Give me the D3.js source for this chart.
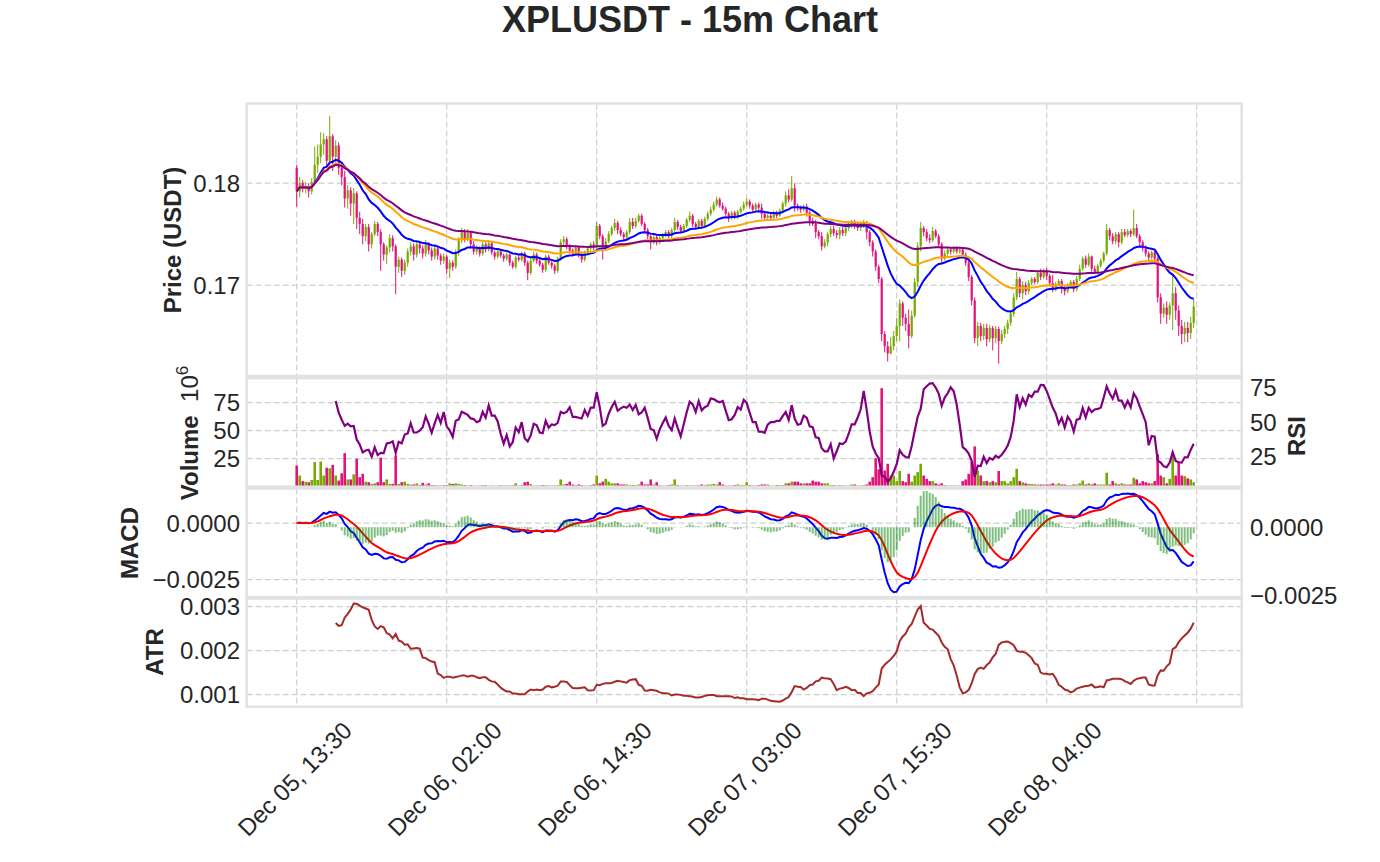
<!DOCTYPE html>
<html><head><meta charset="utf-8">
<script src="https://cdn.jsdelivr.net/npm/d3@7"></script>
<style>
body{margin:0;background:#fff}
text{font-family:"Liberation Sans",Arial,Helvetica,sans-serif;fill:#262626}
</style>
</head><body>
<svg id="c" width="1380" height="862"></svg>
<script>
// ---------------- DATA ----------------
const chartTitle = "XPLUSDT - 15m Chart";
const startTime = "2025-12-05T13:30:00Z";
const stepMinutes = 15;
const firstOpen = 0.1815;
const close = [
.1792,.1800,.1795,.1797,.1792,.1801,.1818,.1826,.1838,.1843,
.1822,.1846,.1826,.1837,.1815,.1806,.1785,.1793,.1780,.1790,
.1766,.1760,.1748,.1757,.1740,.1750,.1760,.1752,.1740,.1730,
.1737,.1746,.1738,.1718,.1725,.1714,.1722,.1733,.1738,.1730,
.1740,.1736,.1731,.1740,.1734,.1728,.1736,.1729,.1724,.1728,
.1716,.1722,.1718,.1732,.1744,.1752,.1745,.1751,.1740,.1733,
.1736,.1731,.1740,.1735,.1741,.1732,.1728,.1733,.1729,.1726,
.1730,.1722,.1718,.1727,.1725,.1731,.1722,.1712,.1724,.1730,
.1724,.1720,.1715,.1728,.1722,.1719,.1714,.1726,.1742,.1745,
.1738,.1734,.1731,.1737,.1730,.1725,.1732,.1736,.1740,.1737,
.1758,.1748,.1737,.1743,.1750,.1756,.1761,.1754,.1750,.1747,
.1752,.1762,.1758,.1763,.1768,.1760,.1754,.1748,.1742,.1747,
.1742,.1746,.1749,.1752,.1748,.1754,.1762,.1757,.1753,.1758,
.1764,.1768,.1760,.1757,.1763,.1758,.1765,.1770,.1774,.1779,
.1784,.1778,.1775,.1770,.1766,.1771,.1767,.1772,.1775,.1779,
.1782,.1778,.1774,.1779,.1776,.1770,.1766,.1768,.1766,.1771,
.1768,.1773,.1780,.1788,.1784,.1795,.1778,.1776,.1774,.1777,
.1771,.1763,.1760,.1752,.1748,.1738,.1742,.1750,.1755,.1751,
.1749,.1754,.1751,.1756,.1759,.1761,.1758,.1756,.1759,.1761,
.1752,.1742,.1733,.1718,.1706,.1652,.1640,.1633,.1640,.1650,
.1660,.1682,.1668,.1662,.1650,.1670,.1703,.1738,.1756,.1752,
.1746,.1744,.1753,.1748,.1740,.1726,.1731,.1735,.1733,.1736,
.1733,.1735,.1730,.1722,.1708,.1685,.1648,.1660,.1650,.1658,
.1647,.1658,.1648,.1657,.1645,.1652,.1657,.1663,.1672,.1688,
.1706,.1692,.1700,.1694,.1702,.1706,.1703,.1712,.1708,.1714,
.1709,.1702,.1696,.1701,.1704,.1697,.1694,.1700,.1703,.1696,
.1706,.1716,.1726,.1720,.1728,.1716,.1713,.1719,.1724,.1731,
.1754,.1748,.1743,.1750,.1742,.1752,.1749,.1753,.1750,.1756,
.1748,.1742,.1736,.1731,.1727,.1732,.1726,.1688,.1672,.1678,
.1671,.1680,.1692,.1675,.1660,.1652,.1658,.1653,.1663,.1679];
const high = [
.1818,.1806,.1803,.1801,.1800,.1805,.1836,.1838,.1850,.1849,
.1846,.1866,.1848,.1842,.1840,.1820,.1812,.1798,.1796,.1795,
.1792,.1772,.1765,.1760,.1760,.1752,.1763,.1762,.1755,.1742,
.1739,.1750,.1749,.1740,.1728,.1727,.1725,.1736,.1742,.1741,
.1743,.1743,.1739,.1744,.1742,.1737,.1739,.1738,.1731,.1731,
.1730,.1725,.1724,.1735,.1747,.1756,.1755,.1755,.1753,.1743,
.1739,.1738,.1743,.1742,.1744,.1743,.1734,.1736,.1735,.1731,
.1732,.1731,.1724,.1729,.1730,.1733,.1733,.1724,.1727,.1733,
.1732,.1726,.1722,.1730,.1730,.1724,.1721,.1728,.1745,.1748,
.1747,.1740,.1736,.1739,.1738,.1732,.1734,.1738,.1742,.1743,
.1762,.1760,.1750,.1746,.1753,.1758,.1765,.1763,.1757,.1752,
.1754,.1766,.1766,.1766,.1770,.1770,.1762,.1756,.1750,.1749,
.1749,.1748,.1751,.1754,.1754,.1756,.1766,.1764,.1759,.1760,
.1766,.1772,.1770,.1762,.1765,.1765,.1767,.1772,.1777,.1782,
.1787,.1786,.1781,.1777,.1772,.1773,.1773,.1774,.1777,.1782,
.1785,.1784,.1780,.1781,.1781,.1780,.1772,.1770,.1770,.1773,
.1773,.1775,.1782,.1792,.1794,.1807,.1800,.1780,.1778,.1779,
.1780,.1773,.1766,.1764,.1754,.1752,.1745,.1752,.1758,.1758,
.1754,.1757,.1757,.1759,.1762,.1764,.1764,.1761,.1762,.1764,
.1763,.1754,.1744,.1735,.1720,.1708,.1655,.1645,.1649,.1655,
.1668,.1686,.1684,.1672,.1676,.1675,.1707,.1742,.1762,.1758,
.1755,.1750,.1757,.1755,.1750,.1742,.1734,.1738,.1737,.1738,
.1738,.1737,.1737,.1732,.1724,.1710,.1688,.1664,.1663,.1662,
.1662,.1661,.1660,.1660,.1659,.1656,.1660,.1666,.1675,.1692,
.1713,.1708,.1704,.1703,.1705,.1708,.1708,.1714,.1716,.1716,
.1717,.1711,.1710,.1703,.1706,.1706,.1699,.1702,.1705,.1705,
.1709,.1720,.1728,.1729,.1731,.1729,.1719,.1721,.1726,.1733,
.1760,.1756,.1751,.1752,.1752,.1755,.1755,.1755,.1755,.1774,
.1760,.1750,.1744,.1739,.1733,.1734,.1734,.1728,.1692,.1682,
.1684,.1683,.1710,.1698,.1680,.1666,.1664,.1664,.1669,.1686];
const low = [
.1777,.1786,.1791,.1790,.1786,.1789,.1798,.1810,.1820,.1828,
.1815,.1818,.1812,.1820,.1808,.1798,.1776,.1775,.1768,.1760,
.1755,.1750,.1740,.1743,.1733,.1736,.1748,.1748,.1714,.1724,
.1721,.1732,.1733,.1691,.1712,.1708,.1710,.1718,.1729,.1724,
.1727,.1731,.1726,.1728,.1730,.1724,.1725,.1725,.1720,.1721,
.1711,.1707,.1714,.1716,.1729,.1741,.1742,.1743,.1738,.1730,
.1730,.1728,.1729,.1732,.1733,.1730,.1725,.1726,.1727,.1723,
.1724,.1719,.1716,.1716,.1723,.1723,.1719,.1705,.1710,.1722,
.1721,.1718,.1712,.1713,.1720,.1716,.1711,.1712,.1724,.1738,
.1735,.1731,.1728,.1729,.1727,.1722,.1723,.1730,.1733,.1734,
.1735,.1745,.1725,.1734,.1741,.1748,.1753,.1750,.1748,.1744,
.1745,.1750,.1755,.1756,.1761,.1758,.1752,.1745,.1735,.1740,
.1739,.1740,.1744,.1747,.1746,.1746,.1752,.1754,.1751,.1751,
.1756,.1762,.1757,.1755,.1755,.1756,.1756,.1763,.1768,.1772,
.1777,.1776,.1773,.1768,.1762,.1764,.1765,.1765,.1770,.1773,
.1777,.1775,.1771,.1772,.1773,.1765,.1764,.1764,.1764,.1765,
.1766,.1767,.1771,.1777,.1781,.1782,.1772,.1773,.1771,.1772,
.1767,.1758,.1758,.1746,.1745,.1734,.1736,.1738,.1747,.1748,
.1746,.1745,.1748,.1748,.1753,.1756,.1755,.1753,.1753,.1756,
.1745,.1738,.1728,.1714,.1702,.1645,.1634,.1625,.1632,.1636,
.1645,.1645,.1660,.1655,.1638,.1648,.1668,.1698,.1733,.1748,
.1743,.1741,.1742,.1746,.1737,.1722,.1724,.1729,.1730,.1731,
.1731,.1731,.1727,.1719,.1704,.1680,.1643,.1640,.1645,.1646,
.1640,.1644,.1636,.1643,.1623,.1642,.1648,.1652,.1660,.1669,
.1685,.1688,.1686,.1690,.1691,.1700,.1701,.1701,.1705,.1706,
.1705,.1699,.1693,.1694,.1699,.1692,.1690,.1692,.1697,.1693,
.1694,.1704,.1714,.1717,.1718,.1713,.1711,.1711,.1717,.1722,
.1729,.1744,.1740,.1740,.1737,.1740,.1747,.1747,.1747,.1748,
.1746,.1738,.1733,.1728,.1724,.1725,.1723,.1683,.1662,.1668,
.1662,.1666,.1656,.1666,.1650,.1642,.1644,.1644,.1647,.1658];
// volume in millions
const volumeM = [
19,10,5,4.5,4,6,22,6,22.5,10,
17,16.5,19.5,10,5.5,12,30,6.5,6.5,11,
25,8.5,11.5,4.5,4,2.5,3,4,26,4,
6.5,2.5,2.5,28,2.5,4,4.5,2.5,2,2,
3,1.5,3.5,2,3,1.5,1.5,1,1,1.5,
1.5,3,2.5,3,2.5,2,1.5,1,1.5,1,
0.8,1,1.5,1.5,0.8,1,0.8,1,1.2,1,
1,1,1.2,3,1,1.5,4,4.5,2.5,1,
1,1,1.5,1.5,1,1,1,1.5,6.5,2,
2.5,4.5,2,1.5,2,1.5,1,1,1.5,2,
10,3,4.5,7,4.5,3,3,3,2,2,
2,1.5,1.5,1.5,2,4.5,2,2,6.5,2,
4,1.5,1,1,1.5,2,6.5,1.5,1,1,
1.5,1,1,1,1.5,2,1.5,2,2,2.5,
2,4,2,1,1,1,1.5,2,1.5,1.5,
4,1.5,1,1,1.5,2,2,2,1,1,
1.5,1.5,1.5,3,3,4.5,4.5,4.5,3,3,
3,3,5.5,4.5,4.5,3,3,3,1.5,1.5,
1,1.5,1,1,1,2,2,1,1,1.5,
2,4.5,8.5,25.5,15.5,88,14.5,20.5,10,10,
5,14,5,4,11.5,4.5,10,13,20.5,10,
7,5,5,3,2,3,1.5,1,1,1,
1,1,5,6.5,11.5,22,36,14.5,10,5,
5,4,5,4,14,5,5,3,5,8.5,
16,5,4,3,2.5,2.5,2,2,2,2,
2,2,3,2,3,2,2,1.5,1.5,2,
2,3,5.5,2,3,2,3,2,2,2,
12.5,2,5,3,2,3,2,2,2,8,
6.5,3,5,4,3,3,5,29,10,8.5,
3,7,29,10,22,10,9.5,7.5,6.5,4];
const xTickIndex  = [0, 50, 100, 150, 200, 250, 300];
const xTickLabels = ["Dec 05, 13:30","Dec 06, 02:00","Dec 06, 14:30","Dec 07, 03:00","Dec 07, 15:30","Dec 08, 04:00",""];
const priceTicks = [0.17, 0.18];
const volTicks   = [25, 50, 75];
const rsiTicks   = [25, 50, 75];
const macdTicks  = [-0.0025, 0];
const histTicks  = [-0.0025, 0];
const histAxisRange = [-0.00257, 0.00142];   // right-hand MACD histogram axis limits
const atrTicks   = [0.001, 0.002, 0.003];
const maSpans = [20, 50, 100];
const maColors = ["#0000ff", "#ffa500", "#800080"];

// ---------------- INDICATORS ----------------
const n = close.length;
const open = close.map((c, i) => i ? close[i - 1] : firstOpen);
function emaAdjust(arr, span) { const a = 2 / (span + 1); let num = 0, den = 0; return arr.map(v => { num = v + (1 - a) * num; den = 1 + (1 - a) * den; return num / den; }); }
const mas = maSpans.map(s => emaAdjust(close, s));
const ema12 = emaAdjust(close, 12), ema26 = emaAdjust(close, 26);
const macd = close.map((_, i) => ema12[i] - ema26[i]);
const signal = emaAdjust(macd, 9);
const hist = macd.map((m, i) => m - signal[i]);
const gain = close.map((c, i) => i && c > close[i - 1] ? c - close[i - 1] : 0);
const loss = close.map((c, i) => i && c < close[i - 1] ? close[i - 1] - c : 0);
const rsi = close.map((_, i) => {
  if (i < 13) return null;
  const g = d3.mean(gain.slice(i - 13, i + 1)), l = d3.mean(loss.slice(i - 13, i + 1));
  return l === 0 ? 100 : 100 - 100 / (1 + g / l);
});
const tr = close.map((_, i) => i ? Math.max(high[i] - low[i], Math.abs(high[i] - close[i - 1]), Math.abs(low[i] - close[i - 1])) : high[i] - low[i]);
const atr = close.map((_, i) => i < 13 ? null : d3.mean(tr.slice(i - 13, i + 1)));

// ---------------- LAYOUT ----------------
const svg = d3.select("#c");
svg.append("rect").attr("width", 1380).attr("height", 862).attr("fill", "#fff");
const t0 = new Date(startTime).getTime();
const tAt = i => new Date(t0 + i * stepMinutes * 60000);
const X0 = 246.7, X1 = 1241.7;
const x = d3.scaleUtc().domain([tAt(-16.667), tAt(315)]).range([X0, X1]);
const xi = i => x(tAt(i));
const P = { price: [103.5, 376], vol: [378.3, 486.7], macd: [488.5, 597.2], atr: [598.6, 706.7] };
const pad = (lo, hi) => { const r = hi - lo; return [lo - 0.05 * r, hi + 0.05 * r]; };
const UP = "#77aa00", DOWN = "#e3137b";
const isUp = i => close[i] >= open[i];
const FS = 24;

const defs = svg.append("defs");
Object.entries(P).forEach(([k, [a, b]]) => {
  defs.append("clipPath").attr("id", "clip-" + k).append("rect").attr("x", X0).attr("y", a).attr("width", X1 - X0).attr("height", b - a);
});

function grid(key, y, ticks) {
  const [a, b] = P[key];
  const g = svg.append("g").attr("stroke", "#cfcfcf").attr("stroke-width", 1.2).attr("stroke-dasharray", "6,3").attr("fill", "none");
  ticks.forEach(t => g.append("line").attr("x1", X0).attr("x2", X1).attr("y1", y(t)).attr("y2", y(t)));
  xTickIndex.forEach(i => g.append("line").attr("x1", xi(i)).attr("x2", xi(i)).attr("y1", a).attr("y2", b));
}
function border(key) {
  const [a, b] = P[key];
  svg.append("rect").attr("x", X0).attr("y", a).attr("width", X1 - X0).attr("height", b - a)
    .attr("fill", "none").attr("stroke", "#e2e2e2").attr("stroke-width", 2.5);
}
function leftTicks(y, ticks, fmt) {
  ticks.forEach(t => svg.append("text").attr("x", 240).attr("y", y(t)).attr("text-anchor", "end")
    .attr("dominant-baseline", "central").attr("font-size", FS).text(fmt(t)));
}
function rightTicks(y, ticks, fmt) {
  ticks.forEach(t => svg.append("text").attr("x", 1250).attr("y", y(t)).attr("text-anchor", "start")
    .attr("dominant-baseline", "central").attr("font-size", FS).text(fmt(t)));
}
function yLabel(xpos, ycen, txt) {
  return svg.append("text").attr("transform", `translate(${xpos},${ycen}) rotate(-90)`).attr("text-anchor", "middle")
    .attr("font-size", FS).attr("font-weight", "bold").text(txt);
}
const panelG = key => svg.append("g").attr("clip-path", `url(#clip-${key})`);

// ---------- PRICE ----------
const yP = d3.scaleLinear().domain(pad(d3.min(low), d3.max(high))).range([P.price[1], P.price[0]]);
grid("price", yP, priceTicks);
const gp = panelG("price");
close.forEach((c, i) => {
  const col = isUp(i) ? UP : DOWN;
  gp.append("line").attr("x1", xi(i)).attr("x2", xi(i)).attr("y1", yP(high[i])).attr("y2", yP(low[i])).attr("stroke", col).attr("stroke-width", 1);
  const y1 = yP(Math.max(open[i], c)), y2 = yP(Math.min(open[i], c));
  gp.append("rect").attr("x", xi(i) - 1.1).attr("width", 2.2).attr("y", y1).attr("height", Math.max(0.8, y2 - y1)).attr("fill", col);
});
mas.forEach((m, k) => {
  gp.append("path").attr("d", d3.line().x((_, i) => xi(i)).y(v => yP(v))(m))
    .attr("fill", "none").attr("stroke", maColors[k]).attr("stroke-width", 2);
});
border("price");
leftTicks(yP, priceTicks, d3.format(".2f"));
yLabel(181, 240, "Price (USDT)");

// ---------- VOLUME + RSI ----------
const yV = d3.scaleLinear().domain([0, d3.max(volumeM) * 1.1]).range([P.vol[1], P.vol[0]]);
const rsiVals = rsi.filter(v => v !== null);
const yR = d3.scaleLinear().domain(pad(d3.min(rsiVals), d3.max(rsiVals))).range([P.vol[1], P.vol[0]]);
grid("vol", yV, volTicks);
const gv = panelG("vol");
volumeM.forEach((v, i) => {
  gv.append("rect").attr("x", xi(i) - 1.3).attr("width", 2.6).attr("y", yV(v)).attr("height", yV(0) - yV(v))
    .attr("fill", isUp(i) ? UP : DOWN);
});
gv.append("path").attr("d", d3.line().defined(v => v !== null).x((_, i) => xi(i)).y(v => yR(v))(rsi))
  .attr("fill", "none").attr("stroke", "#800080").attr("stroke-width", 2.2);
border("vol");
leftTicks(yV, volTicks, d3.format("d"));
rightTicks(yR, rsiTicks, d3.format("d"));
const vl = svg.append("text").attr("transform", `translate(198,433) rotate(-90)`).attr("text-anchor", "middle").attr("font-size", FS);
vl.append("tspan").attr("font-weight", "bold").text("Volume");
vl.append("tspan").text("\u00a0\u00a010");
vl.append("tspan").attr("dy", -10).attr("font-size", 17).text("6");
svg.append("text").attr("transform", `translate(1305,436) rotate(-90)`).attr("text-anchor", "middle")
  .attr("font-size", FS).attr("font-weight", "bold").text("RSI");

// ---------- MACD ----------
const yM = d3.scaleLinear().domain(pad(d3.min([...macd, ...signal]), d3.max([...macd, ...signal]))).range([P.macd[1], P.macd[0]]);
const yH = d3.scaleLinear().domain(histAxisRange).range([P.macd[1], P.macd[0]]);
grid("macd", yM, macdTicks);
const gm = panelG("macd");
gm.append("path").attr("d", d3.line().x((_, i) => xi(i)).y(v => yM(v))(macd)).attr("fill", "none").attr("stroke", "#0000ff").attr("stroke-width", 2);
gm.append("path").attr("d", d3.line().x((_, i) => xi(i)).y(v => yM(v))(signal)).attr("fill", "none").attr("stroke", "#ff0000").attr("stroke-width", 2);
hist.forEach((h, i) => {
  gm.append("rect").attr("x", xi(i) - 1).attr("width", 2).attr("y", Math.min(yH(h), yH(0))).attr("height", Math.abs(yH(h) - yH(0)))
    .attr("fill", "#008000").attr("fill-opacity", 0.5);
});
border("macd");
leftTicks(yM, macdTicks, d3.format(".4f"));
rightTicks(yH, histTicks, d3.format(".4f"));
yLabel(138, 543, "MACD");

// ---------- ATR ----------
const atrVals = atr.filter(v => v !== null);
const yA = d3.scaleLinear().domain(pad(d3.min(atrVals), d3.max(atrVals))).range([P.atr[1], P.atr[0]]);
grid("atr", yA, atrTicks);
const ga = panelG("atr");
ga.append("path").attr("d", d3.line().defined(v => v !== null).x((_, i) => xi(i)).y(v => yA(v))(atr))
  .attr("fill", "none").attr("stroke", "#a52a2a").attr("stroke-width", 2);
border("atr");
leftTicks(yA, atrTicks, d3.format(".3f"));
yLabel(163, 652, "ATR");

// ---------- X AXIS LABELS ----------
xTickIndex.forEach((ti, k) => {
  if (!xTickLabels[k]) return;
  svg.append("text").attr("transform", `translate(${xi(ti) - 2},779) rotate(-45)`).attr("text-anchor", "middle")
    .attr("dominant-baseline", "central").attr("font-size", FS).text(xTickLabels[k]);
});

// ---------- TITLE ----------
svg.append("text").attr("x", 690).attr("y", 32).attr("text-anchor", "middle").attr("font-size", 36)
  .attr("font-weight", "bold").text(chartTitle);
</script>
</body></html>
